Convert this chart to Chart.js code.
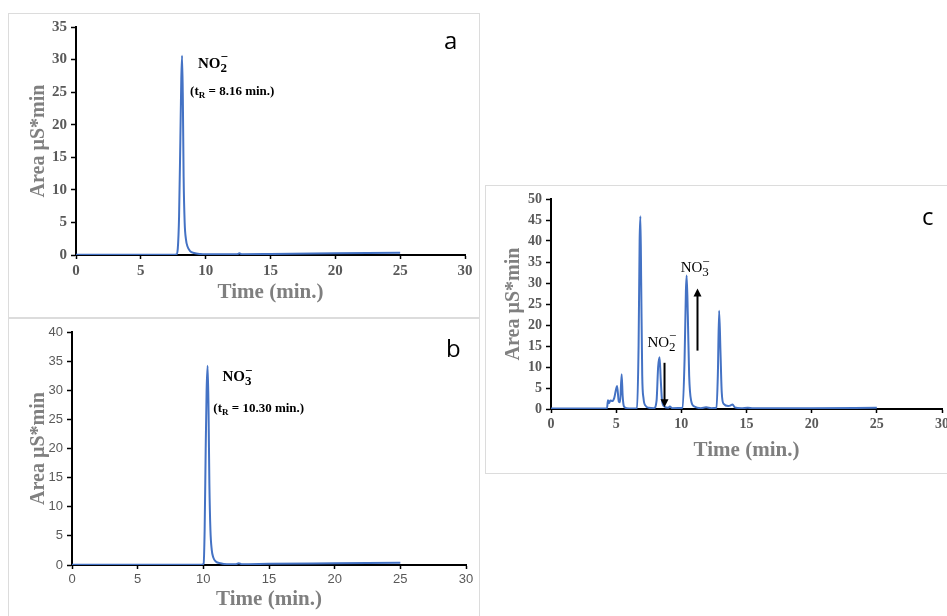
<!DOCTYPE html>
<html>
<head>
<meta charset="utf-8">
<script src="https://cdn.jsdelivr.net/npm/chart.js@4/dist/chart.umd.min.js"></script>
<style>
  body { margin: 0; background: #fff; width: 947px; height: 616px; overflow: hidden; position: relative; }
  .panel { position: absolute; border: 1px solid #dcdcdc; box-sizing: border-box; background: #fff; }
  .panel canvas { position: absolute; left: 0; top: 0; }
  .tag { position: absolute; font-family: "Open Sans", "Liberation Sans", sans-serif; font-size: 24px; color: #000; line-height: 1; }
</style>
</head>
<body>
<div class="panel" style="left:8px;top:13px;width:472px;height:305px"><canvas id="chartA"></canvas></div>
<div class="panel" style="left:8px;top:318px;width:472px;height:300px"><canvas id="chartB"></canvas></div>
<div class="panel" style="left:485px;top:185px;width:470px;height:289px"><canvas id="chartC"></canvas></div>
<div class="tag" style="left:444px;top:28px">a</div>
<div class="tag" style="left:446px;top:336px">b</div>
<div class="tag" style="left:922px;top:204px">c</div>
<script>
// panel a: nitrite standard
var timeA = [0, 2, 4, 6, 7.5, 7.75, 7.85, 7.95, 8.05, 8.12, 8.18, 8.24, 8.3, 8.38, 8.48, 8.6, 8.8, 9.1, 9.6, 10, 12.4, 12.6, 12.8, 15, 20, 25];
var areaA = [0.05, 0.05, 0.05, 0.05, 0.05, 0.1, 1, 6, 18, 27, 30.6, 24, 12, 5, 2.4, 1.3, 0.6, 0.3, 0.15, 0.12, 0.12, 0.25, 0.12, 0.15, 0.25, 0.35];

// panel b: nitrate standard
var timeB = [0, 2, 4, 6, 8, 9.9, 10.02, 10.1, 10.18, 10.25, 10.33, 10.4, 10.46, 10.54, 10.64, 10.76, 10.95, 11.3, 11.8, 12.5, 12.7, 12.9, 15, 20, 25];
var areaB = [0.05, 0.05, 0.05, 0.05, 0.05, 0.05, 0.2, 6, 20, 30, 34.2, 26, 14, 6, 2.6, 1.3, 0.6, 0.3, 0.15, 0.15, 0.3, 0.15, 0.2, 0.3, 0.4];

// panel c: sample
var timeC = [0, 2, 4, 4.3, 4.37, 4.45, 4.55, 4.7, 4.85, 5.07, 5.2, 5.3, 5.42, 5.5, 5.6, 5.8, 6.2, 6.6, 6.72, 6.8, 6.86, 6.92, 7.0, 7.1, 7.25, 7.5, 7.9, 8.1, 8.22, 8.33, 8.42, 8.52, 8.7, 9.0, 9.12, 9.3, 10.1, 10.25, 10.35, 10.41, 10.5, 10.6, 10.75, 11.0, 11.5, 11.9, 12.3, 12.7, 12.8, 12.9, 13.0, 13.1, 13.25, 13.6, 13.75, 13.93, 14.1, 14.6, 15.1, 15.5, 16.8, 20, 25];
var areaC = [0.1, 0.1, 0.1, 0.2, 2.1, 1.4, 2.0, 1.9, 2.6, 5.5, 1.8, 1.6, 8.3, 3, 0.6, 0.2, 0.1, 0.2, 15, 40, 45.9, 30, 8, 2.5, 0.8, 0.3, 0.2, 2, 10, 12.3, 7, 2, 0.6, 0.3, 0.6, 0.2, 0.3, 12, 28, 31.8, 22, 8, 2, 0.6, 0.2, 0.4, 0.2, 0.3, 8, 23.4, 14, 4, 1.2, 0.7, 0.8, 1.1, 0.4, 0.2, 0.3, 0.15, 0.2, 0.2, 0.3];

var xTicks = [0, 5, 10, 15, 20, 25, 30];
var serifBold = { family: '"Liberation Serif", "DejaVu Serif", serif', weight: 'bold' };

function points(xs, ys) {
  return xs.map(function (x, i) { return { x: x, y: ys[i] }; });
}

// draws NO2- / NO3- labels, retention times and arrows at data positions
var notes = {
  id: 'notes',
  afterDatasetsDraw: function (chart, args, opts) {
    var ctx = chart.ctx, xs = chart.scales.x, ys = chart.scales.y;
    ctx.save();
    ctx.fillStyle = '#000';
    ctx.strokeStyle = '#000';
    (opts.ions || []).forEach(function (n) {
      var px = xs.getPixelForValue(n.x), py = ys.getPixelForValue(n.y);
      var f = n.bold ? 'bold ' : '';
      ctx.textBaseline = 'middle';
      ctx.textAlign = 'left';
      ctx.font = f + n.size + 'px "Liberation Serif", serif';
      ctx.fillText('NO', px, py);
      var w = ctx.measureText('NO').width;
      ctx.font = f + Math.round(n.size * 0.85) + 'px "Liberation Serif", serif';
      ctx.fillText(n.sub, px + w, py + n.size * 0.3);
      ctx.fillText('\u2212', px + w, py - n.size * 0.4);
    });
    (opts.texts || []).forEach(function (t) {
      var px = xs.getPixelForValue(t.x), py = ys.getPixelForValue(t.y);
      ctx.textBaseline = 'middle';
      ctx.textAlign = 'left';
      ctx.font = 'bold 13px "Liberation Serif", serif';
      ctx.fillText('(t', px, py);
      var w = ctx.measureText('(t').width;
      ctx.font = 'bold 9px "Liberation Serif", serif';
      ctx.fillText('R', px + w, py + 4);
      var w2 = ctx.measureText('R').width;
      ctx.font = 'bold 13px "Liberation Serif", serif';
      ctx.fillText(' = ' + t.value + ' min.)', px + w + w2, py);
    });
    (opts.arrows || []).forEach(function (a) {
      var px = xs.getPixelForValue(a.x);
      var y1 = ys.getPixelForValue(a.from), y2 = ys.getPixelForValue(a.to);
      var dir = y2 > y1 ? 1 : -1;
      ctx.lineWidth = 2;
      ctx.beginPath();
      ctx.moveTo(px, y1);
      ctx.lineTo(px, y2 - dir * 6);
      ctx.stroke();
      ctx.beginPath();
      ctx.moveTo(px, y2);
      ctx.lineTo(px - 4, y2 - dir * 8);
      ctx.lineTo(px + 4, y2 - dir * 8);
      ctx.closePath();
      ctx.fill();
    });
    ctx.restore();
  }
};

function makeChart(id, w, h, cfg) {
  var canvas = document.getElementById(id);
  canvas.width = w;
  canvas.height = h;
  return new Chart(canvas, {
    type: 'line',
    data: {
      datasets: [{
        data: points(cfg.xs, cfg.ys),
        borderColor: '#4472C4',
        borderWidth: 2,
        pointRadius: 0,
        cubicInterpolationMode: 'monotone',
        fill: false
      }]
    },
    options: {
      responsive: false,
      animation: false,
      layout: { padding: { left: 0, top: cfg.top, right: cfg.right, bottom: 0 } },
      plugins: {
        legend: { display: false },
        tooltip: { enabled: false },
        notes: cfg.notes
      },
      scales: {
        x: {
          type: 'linear',
          min: 0, max: 30,
          afterBuildTicks: function (s) { s.ticks = xTicks.map(function (v) { return { value: v }; }); },
          afterFit: function (s) { s.height = cfg.xh; },
          border: { color: '#000', width: 2 },
          grid: { drawOnChartArea: false, color: '#000', tickLength: 4, tickWidth: 1.5 },
          ticks: { color: '#595959', font: cfg.tickFont, padding: 3, maxRotation: 0 },
          title: {
            display: true, text: 'Time (min.)', color: '#7f7f7f',
            font: { family: '"Liberation Serif", serif', weight: 'bold', size: 21 },
            padding: { top: 0, bottom: cfg.xtPad }
          }
        },
        y: {
          min: 0, max: cfg.ymax,
          ticks: { stepSize: 5, color: '#595959', font: cfg.tickFont, padding: 4 },
          afterFit: function (s) { s.width = cfg.yw; },
          border: { color: '#000', width: 2 },
          grid: { drawOnChartArea: false, color: '#000', tickLength: 5, tickWidth: 1.5 },
          title: {
            display: true, text: 'Area \u00b5S*min', color: '#808080',
            font: { family: '"Liberation Serif", serif', weight: 'bold', size: 20 },
            padding: { top: cfg.ytPad, bottom: 0 }
          }
        }
      }
    },
    plugins: [notes]
  });
}

makeChart('chartA', 470, 303, {
  xs: timeA, ys: areaA, ymax: 35, top: 13, right: 14, xh: 62, yw: 67, xtPad: 12, ytPad: 18,
  tickFont: Object.assign({ size: 15 }, serifBold),
  notes: {
    ions: [{ x: 9.4, y: 29.3, sub: '2', size: 15, bold: true }],
    texts: [{ x: 8.8, y: 25.1, value: '8.16' }]
  }
});

makeChart('chartB', 470, 298, {
  xs: timeB, ys: areaB, ymax: 40, top: 13, right: 13, xh: 52, yw: 63, xtPad: 5, ytPad: 18,
  tickFont: { family: '"Liberation Sans", sans-serif', size: 13 },
  notes: {
    ions: [{ x: 11.45, y: 32.2, sub: '3', size: 15, bold: true }],
    texts: [{ x: 10.76, y: 26.9, value: '10.30' }]
  }
});

makeChart('chartC', 468, 287, {
  xs: timeC, ys: areaC, ymax: 50, top: 13, right: 12, xh: 64, yw: 65, xtPad: 10, ytPad: 16,
  tickFont: Object.assign({ size: 14 }, serifBold),
  notes: {
    ions: [
      { x: 7.4, y: 15.8, sub: '2', size: 15, bold: false },
      { x: 9.95, y: 33.5, sub: '3', size: 15, bold: false }
    ],
    arrows: [
      { x: 8.71, from: 11.0, to: 0.4 },
      { x: 11.24, from: 13.9, to: 28.7 }
    ]
  }
});
</script>
</body>
</html>
